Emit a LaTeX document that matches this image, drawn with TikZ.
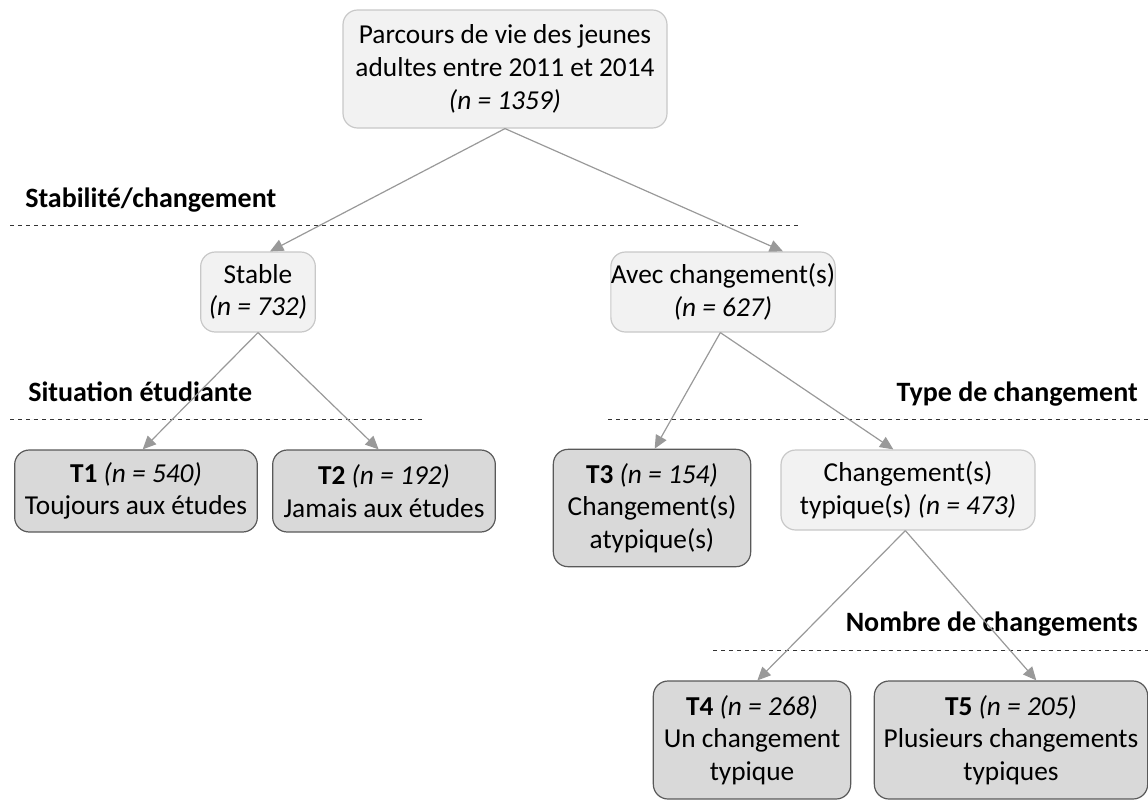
\documentclass[tikz,border=0pt]{standalone}
\usepackage{fontspec}
\setmainfont{Carlito}
\usetikzlibrary{arrows.meta}

\begin{document}
\begin{tikzpicture}[x=0.75pt, y=-0.75pt,
    box_base/.style={rounded corners=11pt, line width=0.9pt, align=center, inner sep=0pt,
        font=\fontsize{20.5}{24.5}\selectfont},
    light_box/.style={box_base, draw=C_edge_light, fill=C_fill_light},
    dark_box/.style={box_base, draw=C_edge_dark, fill=C_fill_dark},
    level_label/.style={font=\fontsize{21}{25}\selectfont\bfseries, inner sep=0pt},
    level_line/.style={draw=black!80, dashed, line width=0.7pt},
    branch/.style={draw=C_arrow, line width=0.9pt, -{Triangle[length=10pt, width=9pt]}}]
    \definecolor{C_fill_light}{HTML}{F2F2F2}
    \definecolor{C_edge_light}{HTML}{C8C8C8}
    \definecolor{C_fill_dark}{HTML}{D9D9D9}
    \definecolor{C_edge_dark}{HTML}{595959}
    \definecolor{C_arrow}{HTML}{999999}

    \useasboundingbox (0,0) rectangle (1148,800);

    % boxes
    \node[light_box, minimum width=243pt, minimum height=88.5pt] (root) at (505,69)
        {Parcours de vie des jeunes\\adultes entre 2011 et 2014\\\textit{(n = 1359)}};
    \node[light_box, minimum width=86pt, minimum height=60pt] (stable) at (258,292)
        {Stable\\\textit{(n = 732)}};
    \node[light_box, minimum width=167pt, minimum height=60pt] (avec) at (723,292)
        {Avec changement(s)\\\textit{(n = 627)}};
    \node[dark_box, minimum width=182pt, minimum height=61.5pt] (t1) at (136,491)
        {\textbf{T1} \textit{(n = 540)}\\Toujours aux études};
    \node[dark_box, minimum width=167pt, minimum height=61.5pt] (t2) at (384,491)
        {\textbf{T2} \textit{(n = 192)}\\Jamais aux études};
    \node[dark_box, minimum width=148pt, minimum height=88pt] (t3) at (652,508)
        {\textbf{T3} \textit{(n = 154)}\\Changement(s)\\atypique(s)};
    \node[light_box, minimum width=190.5pt, minimum height=60pt] (typique) at (908,490)
        {Changement(s)\\typique(s) \textit{(n = 473)}};
    \node[dark_box, minimum width=148pt, minimum height=88.5pt] (t4) at (752,740)
        {\textbf{T4} \textit{(n = 268)}\\Un changement\\typique};
    \node[dark_box, minimum width=205pt, minimum height=88.5pt] (t5) at (1011,740)
        {\textbf{T5} \textit{(n = 205)}\\Plusieurs changements\\typiques};

    % levels
    \node[level_label, anchor=base west] (lbl_stab) at (25,207) {Stabilité/changement};
    \node[level_label, anchor=base west] (lbl_etud) at (28,401) {Situation étudiante};
    \node[level_label, anchor=base east] (lbl_type) at (1138,401) {Type de changement};
    \node[level_label, anchor=base east] (lbl_nomb) at (1138,631) {Nombre de changements};
    \path[level_line] (10,225) -- (800,225);
    \path[level_line] (10,419) -- (425,419);
    \path[level_line] (608,419) -- (1148,419);
    \path[level_line] (713,650) -- (1148,650);

    % branches
    \path[branch] (root.south) -- ([xshift=9pt]stable.north);
    \path[branch] (root.south) -- ([xshift=45pt]avec.north);
    \path[branch] (stable.south) -- ([xshift=5pt]t1.north);
    \path[branch] (stable.south) -- ([xshift=-4pt]t2.north);
    \path[branch] ([xshift=-2pt]avec.south) -- ([xshift=2pt]t3.north);
    \path[branch] ([xshift=-2pt]avec.south) -- ([xshift=-11pt]typique.north);
    \path[branch] ([xshift=-2pt]typique.south) -- ([xshift=4pt]t4.north);
    \path[branch] ([xshift=-2pt]typique.south) -- ([xshift=19pt]t5.north);

\end{tikzpicture}
\end{document}
